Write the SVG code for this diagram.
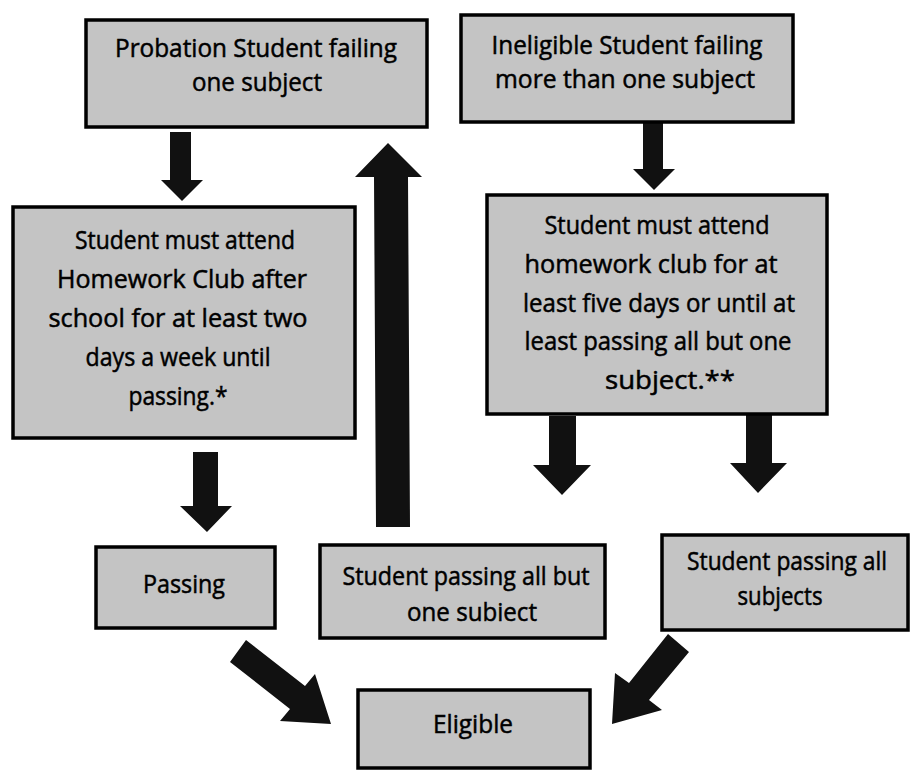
<svg xmlns="http://www.w3.org/2000/svg" width="912" height="772" viewBox="0 0 912 772">
<style>
.box{fill:#c4c4c4;stroke:#000;stroke-width:3.5}
.t{font-family:"Open Sans","Noto Sans",sans-serif;font-size:25px;fill:#000;stroke:#000;stroke-width:0.5;text-anchor:middle}
.arr{fill:#111}
</style>
<rect width="912" height="772" fill="#fff"/>
<g id="connectors">
<polygon class="arr" points="170,132 191,132 191,180 203,180 182,201 161,180 170,180"/>
<polygon class="arr" points="388,143 422,177 408,177 410,527 376,527 374,177 355,177"/>
<polygon class="arr" points="643,123 663,123 663,169 675,169 654,190 633,169 643,169"/>
<polygon class="arr" points="193,452 218,452 218,506 232,506 207,532 180,506 193,506"/>
<polygon class="arr" points="549,416 576,416 576,465 591,465 562,495 533,465 549,465"/>
<polygon class="arr" points="746,412 772,412 772,463 787,463 758,493 730,463 746,463"/>
<polygon class="arr" points="246,640 305,686 315,674 331,724 280,721 290,709 230,662"/>
<polygon class="arr" points="668,634 629,683 615,673 612,724 662,710 649,700 689,652"/>
</g>
<g id="n1"><rect class="box" x="86" y="20" width="341" height="107"/>
<text class="t" x="256" y="57" textLength="282" lengthAdjust="spacingAndGlyphs">Probation Student failing</text>
<text class="t" x="257" y="91" textLength="130" lengthAdjust="spacingAndGlyphs">one subject</text></g>
<g id="n2"><rect class="box" x="461" y="15" width="332" height="107"/>
<text class="t" x="627" y="54" textLength="271" lengthAdjust="spacingAndGlyphs">Ineligible Student failing</text>
<text class="t" x="625" y="88" textLength="260" lengthAdjust="spacingAndGlyphs">more than one subject</text></g>
<g id="n3"><rect class="box" x="13" y="207" width="342" height="231"/>
<text class="t" x="185" y="249" textLength="220" lengthAdjust="spacingAndGlyphs">Student must attend</text>
<text class="t" x="182" y="288" textLength="250" lengthAdjust="spacingAndGlyphs">Homework Club after</text>
<text class="t" x="178" y="327" textLength="259" lengthAdjust="spacingAndGlyphs">school for at least two</text>
<text class="t" x="178" y="366" textLength="185" lengthAdjust="spacingAndGlyphs">days a week until</text>
<text class="t" x="178" y="405" textLength="99" lengthAdjust="spacingAndGlyphs">passing.*</text></g>
<g id="n4"><rect class="box" x="487" y="195" width="340" height="219"/>
<text class="t" x="657" y="234" textLength="225" lengthAdjust="spacingAndGlyphs">Student must attend</text>
<text class="t" x="651" y="273" textLength="253" lengthAdjust="spacingAndGlyphs">homework club for at</text>
<text class="t" x="659" y="312" textLength="272" lengthAdjust="spacingAndGlyphs">least five days or until at</text>
<text class="t" x="658" y="350" textLength="267" lengthAdjust="spacingAndGlyphs">least passing all but one</text>
<text class="t" x="670" y="389" textLength="130" lengthAdjust="spacingAndGlyphs">subject.**</text></g>
<g id="n5"><rect class="box" x="96" y="547" width="179" height="81"/>
<text class="t" x="184" y="593" textLength="82" lengthAdjust="spacingAndGlyphs">Passing</text></g>
<g id="n6"><rect class="box" x="320" y="545" width="285" height="93"/>
<text class="t" x="466" y="585" textLength="247" lengthAdjust="spacingAndGlyphs">Student passing all but</text>
<text class="t" x="472" y="621" textLength="130" lengthAdjust="spacingAndGlyphs">one subiect</text></g>
<g id="n7"><rect class="box" x="662" y="535" width="246" height="95"/>
<text class="t" x="787" y="570" textLength="200" lengthAdjust="spacingAndGlyphs">Student passing all</text>
<text class="t" x="780" y="605" textLength="85" lengthAdjust="spacingAndGlyphs">subjects</text></g>
<g id="n8"><rect class="box" x="358" y="690" width="232" height="78"/>
<text class="t" x="473" y="733" textLength="80" lengthAdjust="spacingAndGlyphs">Eligible</text></g>
</svg>
